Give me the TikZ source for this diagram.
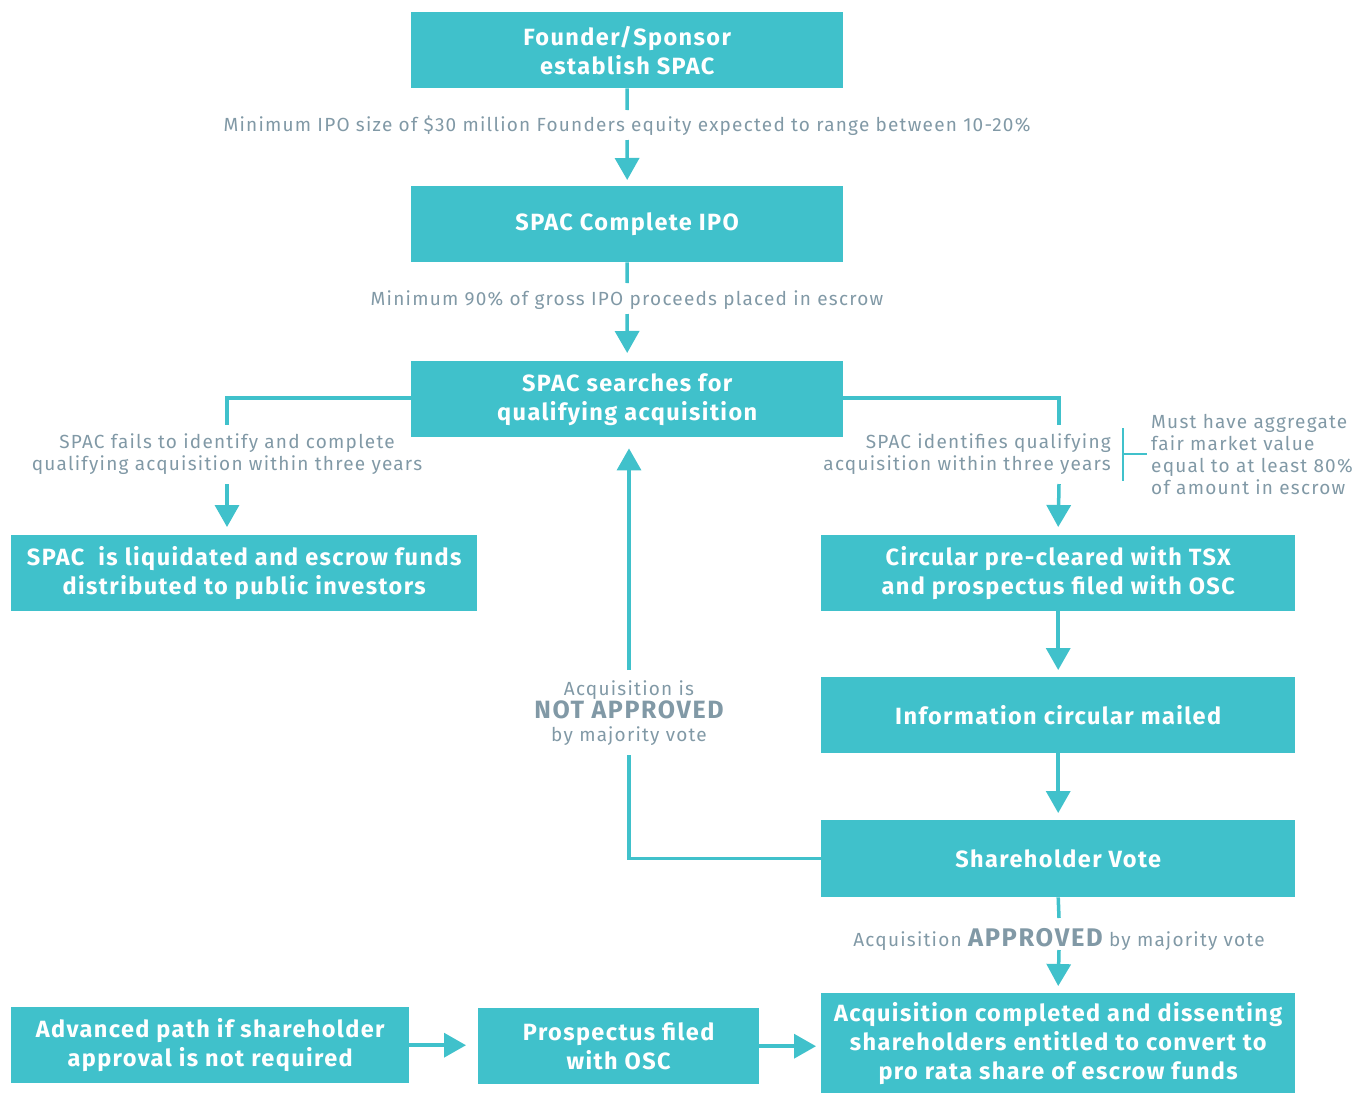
\documentclass[tikz,border=0pt]{standalone}
\usepackage{fontspec}
\setmainfont{Fira Sans}
\newfontfamily\lblfont[LetterSpace=6.5]{Fira Sans}
\newfontfamily\boxfont[LetterSpace=6]{Fira Sans}
\usetikzlibrary{arrows.meta}
\definecolor{boxc}{HTML}{40C1CB}
\definecolor{greyc}{HTML}{8199A6}
\tikzset{
  stepbox/.style={fill=boxc, text=white, font=\boxfont\fontsize{23.5}{29}\selectfont\bfseries, align=center, inner sep=0pt, anchor=north west},
  lbl/.style={text=greyc, font=\lblfont\fontsize{19}{22}\selectfont, inner sep=0pt},
  conn/.style={draw=boxc, line width=3.5pt},
  arr/.style={conn, -{Triangle[width=24pt,length=22pt]}},
}
\begin{document}
\begin{tikzpicture}[x=1pt,y=-1pt]
\useasboundingbox (0,0) rectangle (1354,1093);
% boxes
\node[stepbox, minimum width=432, minimum height=76] (b1) at (411,12) {Founder/Sponsor\\establish SPAC};
\node[stepbox, minimum width=432, minimum height=76] (b2) at (411,186) {SPAC Complete IPO};
\node[stepbox, minimum width=432, minimum height=76] (b3) at (411,361) {SPAC searches for\\qualifying acquisition};
\node[stepbox, minimum width=466, minimum height=76] (b4) at (11,535) {SPAC\ \ is liquidated and escrow funds\\distributed to public investors};
\node[stepbox, minimum width=474, minimum height=76] (b5) at (821,535) {Circular pre-cleared with TSX\\and prospectus filed with OSC};
\node[stepbox, minimum width=474, minimum height=76] (b6) at (821,677) {Information circular mailed};
\node[stepbox, minimum width=474, minimum height=77] (b7) at (821,820) {Shareholder Vote};
\node[stepbox, minimum width=474, minimum height=100] (b8) at (821,993) {Acquisition completed and dissenting\\shareholders entitled to convert to\\pro rata share of escrow funds};
\node[stepbox, minimum width=398, minimum height=76] (b9) at (11,1007) {Advanced path if shareholder\\approval is not required};
\node[stepbox, minimum width=281, minimum height=76] (b10) at (478,1008) {Prospectus filed\\with OSC};
% labels
\node[lbl] (l1) at (627,126) {Minimum IPO size of \$30 million Founders equity expected to range between 10-20\%};
\node[lbl] (l2) at (627,300) {Minimum 90\% of gross IPO proceeds placed in escrow};
\node[lbl, align=center] (l3) at (227,454) {SPAC fails to identify and complete\\qualifying acquisition within three years};
\node[lbl, align=right, anchor=east] (l4) at (1111,454) {SPAC identifies qualifying\\acquisition within three years};
\node[lbl, align=left, anchor=west] (l5) at (1151,454) {Must have aggregate\\fair market value\\equal to at least 80\%\\of amount in escrow};
\node[lbl, align=center, font=\lblfont\fontsize{19}{23}\selectfont] (l6) at (629,713) {Acquisition is\\{\fontsize{25}{25}\selectfont\bfseries NOT APPROVED}\\by majority vote};
\node[lbl] (l7) at (1059,939) {Acquisition {\fontsize{25.5}{25}\selectfont\bfseries APPROVED} by majority vote};
% coordinates
\coordinate (c1a) at (627,110);
\coordinate (c1b) at (627,140);
\coordinate (c2a) at (627,283);
\coordinate (c2b) at (627,314);
\coordinate (cl) at (227,425);
\coordinate (cl2) at (227,484);
\coordinate (cr) at (1059,425);
\coordinate (cr2) at (1059,484);
\coordinate (cn1) at (629,755);
\coordinate (cn2) at (629,670);
\coordinate (ca1) at (1059,918);
\coordinate (ca2) at (1059,950);
% connectors
\draw[conn] (b1.south) -- (c1a);
\draw[arr] (c1b) -- ([yshift=6]b2.north);
\draw[conn] (b2.south) -- (c2a);
\draw[arr] (c2b) -- ([yshift=8]b3.north);
\draw[conn] (b3.west |- 0,398) -| (cl);
\draw[arr] (cl2) -- ([yshift=8]b4.north -| cl2);
\draw[conn] (b3.east |- 0,398) -| (cr);
\draw[arr] (cr2) -- ([yshift=8]b5.north);
\draw[arr] (b5.south) -- ([yshift=7]b6.north);
\draw[arr] (b6.south) -- ([yshift=7]b7.north);
\draw[conn] (b7.west) -| (cn1);
\draw[arr] (cn2) -- ([yshift=-11]b3.south -| cn2);
\draw[conn] (b7.south) -- (ca1);
\draw[arr] (ca2) -- ([yshift=7]b8.north);
\draw[arr] (b9.east) -- ([xshift=-12]b10.west |- b9.east);
\draw[arr] (b10.east) -- ([xshift=-5]b8.west |- b10.east);
% bracket
\draw[draw=boxc, line width=1.2pt] (1123,428) -- (1123,481);
\draw[draw=boxc, line width=1.2pt] (1123,454) -- (1147,454);
\end{tikzpicture}
\end{document}
